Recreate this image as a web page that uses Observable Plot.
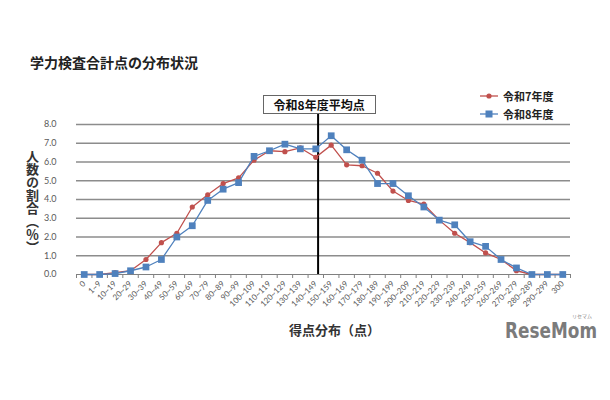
<!DOCTYPE html>
<html><head><meta charset="utf-8">
<script src="https://cdn.jsdelivr.net/npm/d3@7"></script>
<script src="https://cdn.jsdelivr.net/npm/@observablehq/plot@0.6"></script>
<style>
body{margin:0;background:#fff;}
#wrap{position:relative;width:610px;height:400px;overflow:hidden;font-family:"Noto Sans CJK JP",sans-serif;}
#wrap > svg{position:absolute;left:0;top:0;}
.abs{position:absolute;white-space:nowrap;}
</style></head><body>
<div id="wrap"></div>
<script>
const categories = ["0","1~9","10~19","20~29","30~39","40~49","50~59","60~69","70~79","80~89","90~99",
 "100~109","110~119","120~129","130~139","140~149","150~159","160~169","170~179","180~189","190~199",
 "200~209","210~219","220~229","230~239","240~249","250~259","260~269","270~279","280~289","290~299","300"];
const reiwa7 = [0,0,0.1,0.2,0.8,1.7,2.2,3.6,4.25,4.85,5.15,6.1,6.6,6.55,6.75,6.25,6.9,5.85,5.8,5.4,4.45,3.95,3.75,2.9,2.2,1.7,1.15,0.8,0.2,0,0,0];
const reiwa8 = [0,0,0.05,0.2,0.4,0.8,2.0,2.6,3.95,4.55,4.9,6.3,6.6,6.95,6.7,6.7,7.4,6.65,6.1,4.85,4.85,4.2,3.6,2.9,2.65,1.75,1.5,0.8,0.35,0,0,0];
const seriesNames = ["令和7年度","令和8年度"];
const colors = ["#C0504D","#4F81BD"];
const yTicks = [0,1,2,3,4,5,6,7,8];
const meanIndex = 15.15;       // 令和8年度平均点 position (category index)
const meanLabel = "令和8年度平均点";
const title = "学力検査合計点の分布状況";
const yLabel = "人数の割合︵％︶";
const xLabel = "得点分布（点）";

const d7 = reiwa7.map((v,i)=>({i, v}));
const d8 = reiwa8.map((v,i)=>({i, v}));
const boundaries = d3.range(categories.length+1).map(k=>k-0.5);

const plot = Plot.plot({
  width: 610, height: 400,
  marginLeft: 76, marginRight: 40, marginTop: 124, marginBottom: 126,
  style: {fontFamily: "Lato, sans-serif", background: "transparent"},
  x: {type: "linear", domain: [-0.5, categories.length-0.5], axis: null},
  y: {domain: [0,8], axis: null},
  marks: [
    Plot.ruleY(yTicks.slice(1), {stroke: "#8c8c8c", strokeWidth: 1.5}),
    Plot.ruleY([0], {stroke: "#808080", strokeWidth: 1}),
    Plot.ruleX(boundaries, {y1: 0, y2: 0, insetBottom: -4, stroke: "#808080"}),
    Plot.axisX({ticks: d3.range(categories.length), tickFormat: i => categories[i], tickRotate: -45,
      tickSize: 0, tickPadding: 8, fontSize: 8, fill: "#595959", label: null}),
    Plot.axisY({ticks: yTicks, tickFormat: d3.format(".1f"), tickSize: 0, tickPadding: 20, fontSize: 9, fill: "#595959", label: null}),
    Plot.ruleX([meanIndex], {y1: 0, y2: 8.6, stroke: "#000", strokeWidth: 2}),
    Plot.line(d7, {x: "i", y: "v", stroke: colors[0], strokeWidth: 1.3}),
    Plot.dot(d7, {x: "i", y: "v", fill: colors[0], r: 2.6, symbol: "circle"}),
    Plot.line(d8, {x: "i", y: "v", stroke: colors[1], strokeWidth: 1.3}),
    Plot.dot(d8, {x: "i", y: "v", fill: colors[1], r: 3.8, symbol: "square"})
  ]
});
const wrap = document.getElementById("wrap");
wrap.appendChild(plot);

function add(html, css){ const d=document.createElement("div"); d.className="abs"; d.innerHTML=html; Object.assign(d.style, css); wrap.appendChild(d); return d;}

add(title, {left:"30px", top:"52px", fontSize:"14px", fontWeight:"bold", color:"#222"});
add(yLabel, {left:"25px", top:"150px", fontSize:"13px", fontWeight:"bold", color:"#333", writingMode:"vertical-rl", lineHeight:"14px"});
add(xLabel, {left:"289px", top:"320px", fontSize:"13px", fontWeight:"bold", color:"#333"});

const xs = plot.scale("x").apply(meanIndex);
add(meanLabel, {left:(xs-55)+"px", top:"95px", width:"111px", height:"17px", border:"1px solid #666", background:"#fff",
  fontSize:"12px", fontWeight:"bold", color:"#111", textAlign:"center", lineHeight:"17px"});

// legend
seriesNames.forEach((name, k) => {
  const y = 96 + k*18;
  const sym = k===0 ? `<circle cx="9" cy="6" r="2.6" fill="${colors[k]}"/>` : `<rect x="5.5" y="2.5" width="7" height="7" fill="${colors[k]}"/>`;
  add(`<svg width="19" height="12"><line x1="0" x2="18" y1="6" y2="6" stroke="${colors[k]}" stroke-width="1.3"/>${sym}</svg>`,
    {left:"480px", top:(y-6)+"px", lineHeight:"0"});
  add(name, {left:"503px", top:(y-8)+"px", fontSize:"11px", fontWeight:"bold", color:"#222", lineHeight:"16px"});
});

const logo = add("ReseMom", {left:"505px", top:"318px", fontSize:"22px", fontWeight:"bold", color:"#7b7b7b",
  fontFamily:"'DejaVu Sans', sans-serif", lineHeight:"26px", transformOrigin:"0 0"});
const lw = logo.getBoundingClientRect().width;
logo.style.transform = `scaleX(${92/lw})`;
add("リセマム", {left:"572px", top:"313px", fontSize:"5px", color:"#888", lineHeight:"6px"});
</script>
</body></html>
